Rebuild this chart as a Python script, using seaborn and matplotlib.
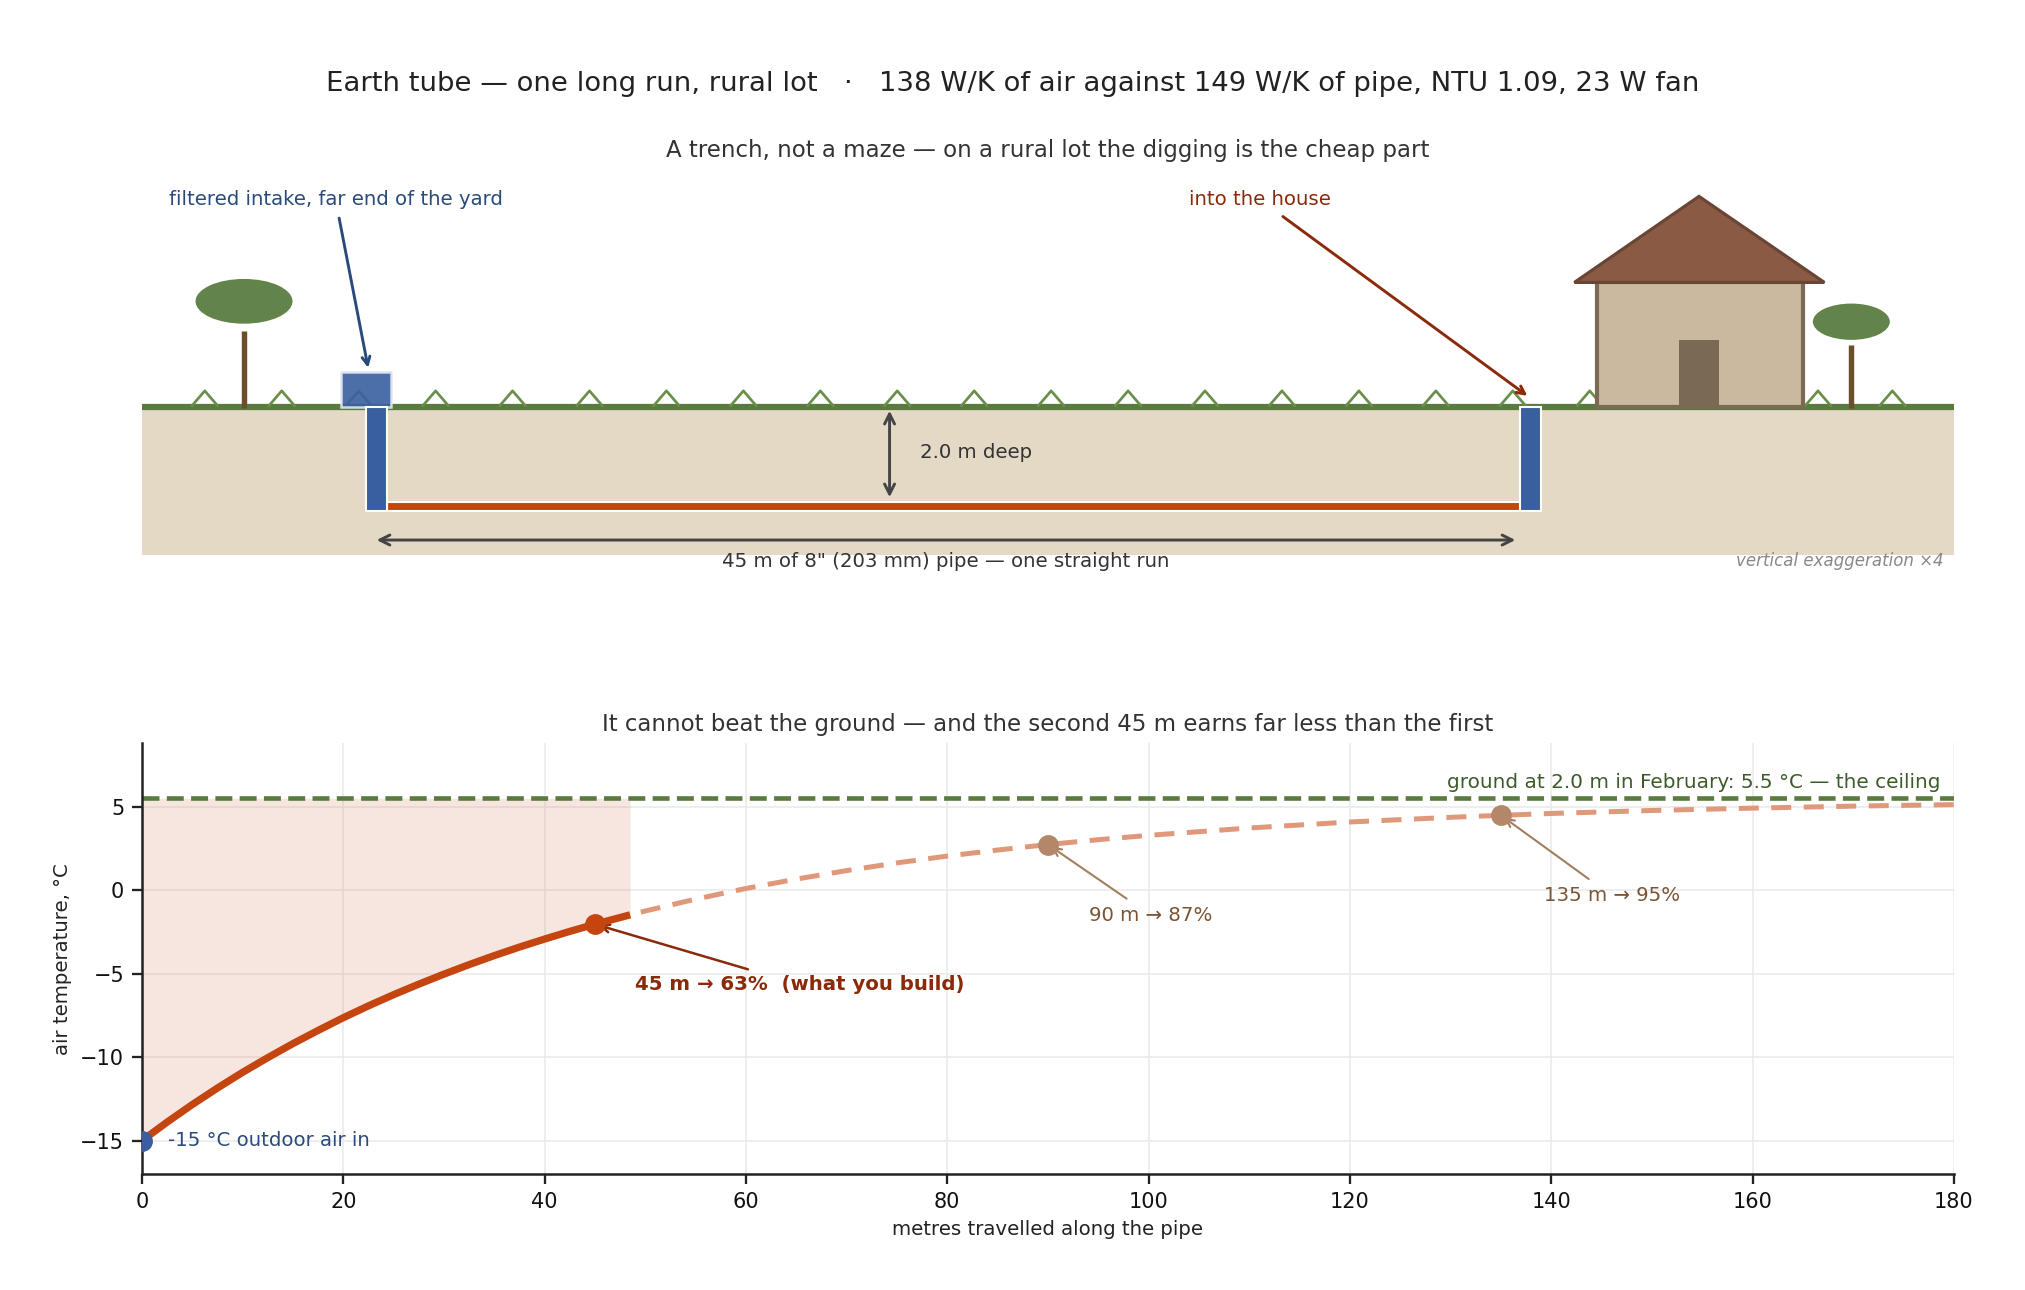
import matplotlib
matplotlib.use("Agg")
import matplotlib.pyplot as plt
import seaborn as sns
import pandas as pd
from matplotlib.patches import Rectangle, Polygon, Ellipse

# values
T_OUTDOOR = -15.0
T_GROUND = 5.5
PIPE_LEN = 45.0
BUILT_END = 48.5

dist_m = [0, 2.5, 5, 7.5, 10, 12.5, 15, 17.5, 20, 22.5, 25, 27.5, 30, 32.5,
          35, 37.5, 40, 42.5, 45, 48.5, 50, 55, 60, 65, 70, 75, 80, 85, 90,
          95, 100, 110, 120, 130, 135, 140, 150, 160, 170, 180]
air_temp = [-15.00, -13.89, -12.84, -11.85, -10.91, -10.03, -9.19, -8.40,
            -7.64, -6.93, -6.26, -5.63, -5.03, -4.46, -3.92, -3.41, -2.93,
            -2.47, -2.04, -1.48, -1.25, -0.54, 0.10, 0.66, 1.17, 1.63, 2.04,
            2.40, 2.73, 3.02, 3.28, 3.72, 4.08, 4.36, 4.48, 4.59, 4.77, 4.91,
            5.03, 5.12]

milestone_m = [45, 90, 135]
milestone_temp = [-2.04, 2.73, 4.48]
milestone_pct = [63, 87, 95]

x_ticks = [0, 20, 40, 60, 80, 100, 120, 140, 160, 180]
y_ticks = [5, 0, -5, -10, -15]

tuft_x = [-6.7, -3.7, -0.7, 2.3, 5.3, 8.3, 11.3, 14.3, 17.3, 20.3, 23.3, 26.3,
          29.3, 32.3, 35.3, 38.3, 41.3, 44.3, 47.3, 50.3, 53.3, 56.2, 59.1]

df = pd.DataFrame({'dist': dist_m, 'temp': air_temp})
built = df[df['dist'] <= BUILT_END]

# colours
ORANGE = '#c4450f'
ORANGE_LIGHT = '#e0987a'
BLUE = '#3a5fa0'
GREEN = '#5a7a3f'
TAN = '#b5876a'
DARK_RED = '#8a2a0a'
NAVY = '#2a4a7a'

sns.set_theme(style="ticks")
plt.rcParams['font.family'] = ['DejaVu Sans']

fig = plt.figure(figsize=(13.5, 8.6), dpi=150)
fig.suptitle('Earth tube \u2014 one long run, rural lot   \u00b7   138 W/K of air against '
             '149 W/K of pipe, NTU 1.09, 23 W fan',
             fontsize=13.2, color='#222222', y=0.935, va='center')

# ---------- schematic ----------
ax_top = fig.add_axes([0.0701, 0.5698, 0.8948, 0.293])
x0, x1 = -9.15, 61.5
ax_top.set_xlim(x0, x1)
ax_top.set_ylim(-3.0, 4.6)
ax_top.axis('off')
ax_top.set_title('A trench, not a maze \u2014 on a rural lot the digging is the cheap part',
                 fontsize=11, color='#333333', pad=9.5)

ax_top.add_patch(Rectangle((x0, -3.0), x1 - x0, 3.0, fc='#e3d9c5', ec='none', zorder=1))
ax_top.plot([x0, x1], [-0.02, -0.02], color=GREEN, lw=3, solid_capstyle='butt', zorder=2)
for tx in tuft_x:
    ax_top.plot([tx - 0.5, tx, tx + 0.5], [0.0, 0.3, 0.0], color='#6a8f4a', lw=1.3, zorder=3)

# trees
for trunk_x, trunk_top, cy, cw, ch in [(-5.17, 1.5, 2.1, 3.78, 0.9), (57.5, 1.22, 1.69, 3.0, 0.73)]:
    ax_top.plot([trunk_x, trunk_x], [-0.05, trunk_top], color='#6b4f2a', lw=2.6,
                solid_capstyle='butt', zorder=3)
    ax_top.add_patch(Ellipse((trunk_x, cy), cw, ch, fc='#62844a', ec='none', zorder=3))

# pipe
ax_top.add_patch(Rectangle((-1.4, -0.02), 1.95, 0.7, fc=BLUE, alpha=0.9, ec='#e0e6f0', lw=1.2, zorder=4))
ax_top.add_patch(Rectangle((0.41, -2.11), PIPE_LEN - 0.82, 0.17, fc=ORANGE, ec='white', lw=1, zorder=4))
for rx in [0, PIPE_LEN]:
    ax_top.add_patch(Rectangle((rx - 0.41, -2.12), 0.82, 2.1, fc=BLUE, ec='white', lw=1, zorder=5))

# house
ax_top.add_patch(Rectangle((47.6, -0.02), 8.0, 2.5, fc='#cbb99f', ec='#7a6a55', lw=2, zorder=4))
ax_top.add_patch(Polygon([(46.7, 2.48), (51.56, 4.21), (56.45, 2.48)], closed=True,
                         fc='#8a5a44', ec='#6a4535', lw=1.5, zorder=4))
ax_top.add_patch(Rectangle((50.78, -0.02), 1.56, 1.34, fc='#7a6a55', ec='none', zorder=5))

# dimensions
ax_top.annotate('', xy=(20, -1.84), xytext=(20, -0.1),
                arrowprops=dict(arrowstyle='<->', color='#444444', lw=1.4, shrinkA=0, shrinkB=0), zorder=6)
ax_top.text(21.2, -0.94, '2.0 m deep', fontsize=9.5, color='#333333', va='center', ha='left')
ax_top.annotate('', xy=(44.4, -2.70), xytext=(0.0, -2.70),
                arrowprops=dict(arrowstyle='<->', color='#444444', lw=1.4, shrinkA=0, shrinkB=0), zorder=6)
ax_top.text(22.2, -3.13, '45 m of 8" (203 mm) pipe \u2014 one straight run',
            fontsize=9.5, color='#333333', ha='center', va='center')
ax_top.text(61.1, -3.13, 'vertical exaggeration \u00d74', fontsize=8, color='#888888',
            style='italic', ha='right', va='center')

ax_top.annotate('filtered intake, far end of the yard', xy=(-0.3, 0.68), xytext=(-1.6, 4.14),
                fontsize=9.5, color=NAVY, ha='center', va='center',
                arrowprops=dict(arrowstyle='->', color=NAVY, lw=1.4))
ax_top.annotate('into the house', xy=(45.0, 0.15), xytext=(34.45, 4.14),
                fontsize=9.5, color=DARK_RED, ha='center', va='center',
                arrowprops=dict(arrowstyle='->', color=DARK_RED, lw=1.4))

# ---------- temperature along the pipe ----------
ax = fig.add_axes([0.0701, 0.0899, 0.8948, 0.334])
ax.fill_between(built['dist'], built['temp'], T_GROUND, color=ORANGE, alpha=0.13, lw=0, zorder=1)
ax.axhline(T_GROUND, color=GREEN, ls='--', lw=2.2, zorder=2)
sns.lineplot(data=df, x='dist', y='temp', ax=ax, color=ORANGE_LIGHT, lw=2.4,
             linestyle=(0, (4, 2.5)), errorbar=None, zorder=3)
sns.lineplot(data=built, x='dist', y='temp', ax=ax, color=ORANGE, lw=3.5,
             errorbar=None, zorder=4, solid_capstyle='butt')

ax.plot([0], [T_OUTDOOR], 'o', color=BLUE, ms=9, zorder=5)
ax.plot(milestone_m[:1], milestone_temp[:1], 'o', color=ORANGE, ms=9, zorder=5)
ax.plot(milestone_m[1:], milestone_temp[1:], 'o', color=TAN, ms=9, zorder=5)

ax.text(2.6, T_OUTDOOR, f'{T_OUTDOOR:.0f} \u00b0C outdoor air in', fontsize=9.5,
        color=NAVY, va='center', ha='left')
ax.text(178.7, T_GROUND + 0.35, f'ground at 2.0 m in February: {T_GROUND} \u00b0C \u2014 the ceiling',
        fontsize=9.6, color='#3d5a2a', ha='right', va='bottom')
ax.annotate(f'{milestone_m[0]} m \u2192 {milestone_pct[0]}%  (what you build)',
            xy=(milestone_m[0], milestone_temp[0]), xytext=(49, -5.66),
            fontsize=9.5, fontweight='bold', color=DARK_RED, ha='left', va='center',
            arrowprops=dict(arrowstyle='->', color=DARK_RED, lw=1.2))
for m, t, p, tx, ty in [(milestone_m[1], milestone_temp[1], milestone_pct[1], 100.2, -1.5),
                        (milestone_m[2], milestone_temp[2], milestone_pct[2], 146.0, -0.33)]:
    ax.annotate(f'{m} m \u2192 {p}%', xy=(m, t), xytext=(tx, ty),
                fontsize=9.5, color='#7a5535', ha='center', va='center',
                arrowprops=dict(arrowstyle='->', color='#a08060', lw=1.0))

ax.set_xlim(0, 180)
ax.set_ylim(-17, 8.8)
ax.set_xticks(x_ticks)
ax.set_yticks(y_ticks)
ax.grid(True, color='#ebebeb', lw=0.8)
ax.set_axisbelow(True)
sns.despine(ax=ax)
for s in ['left', 'bottom']:
    ax.spines[s].set_color('#222222')
    ax.spines[s].set_linewidth(1.2)
ax.tick_params(labelsize=10, length=5, width=1.1, color='#222222', labelcolor='#111111')
ax.set_xlabel('metres travelled along the pipe', fontsize=9.5, color='#222222')
ax.set_ylabel('air temperature, \u00b0C', fontsize=9.5, color='#222222')
ax.set_title('It cannot beat the ground \u2014 and the second 45 m earns far less than the first',
             fontsize=11, color='#333333', pad=6)

fig.savefig('out.png', dpi=150)
